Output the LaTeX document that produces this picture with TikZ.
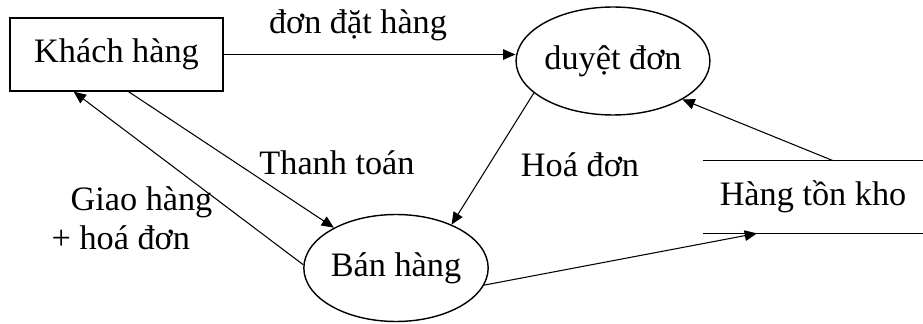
\documentclass[tikz,border=0pt]{standalone}
\usepackage{fontspec}
\setmainfont{Liberation Serif}
\usetikzlibrary{arrows.meta}
\usetikzlibrary{calc}
\usetikzlibrary{shapes.geometric}

\tikzset{
  proc/.style={ellipse, draw, line width=0.8pt, inner sep=0pt},
  flow/.style={-{Triangle[length=7pt,width=6pt]}, line width=0.6pt},
  lbl/.style={inner sep=0pt}
}

\begin{document}
\begin{tikzpicture}[x=0.02cm, y=-0.02cm, font=\fontsize{19.5}{22}\selectfont]
\useasboundingbox (0,0) rectangle (923,324);

\node[rectangle, draw, line width=0.8pt, minimum width=4.26cm, minimum height=1.46cm] (kh) at (116.5,54.5) {Khách hàng};
\node[proc, minimum width=3.26cm, minimum height=2.16cm] (duyet) at (613,61) {duyệt đơn};
\node[proc, minimum width=3.1cm, minimum height=2.14cm] (ban) at (396,268) {Bán hàng};
\node[minimum width=4.4cm, minimum height=1.44cm] (kho) at (813,197) {Hàng tồn kho};
\draw[line width=0.8pt] (kho.north west) -- (kho.north east);
\draw[line width=0.8pt] (kho.south west) -- (kho.south east);

\node[lbl] (ldat) at (358,25) {đơn đặt hàng};
\node[lbl] (ltt) at (337,163) {Thanh toán};
\node[lbl, align=left] (lgiao) at (132,218) {\hspace{0.38cm}Giao hàng\\+ hoá đơn};
\node[lbl] (lhd) at (580,165) {Hoá đơn};

\draw[flow] (kh.east) -- (duyet.west |- kh.east);
\draw[flow] (kh.-72.5) -- (ban.147);
\draw[flow] (ban.178) -- (kh.-139);
\draw[flow] (duyet.-158) -- (ban.38);
\draw[flow] ($(kho.north)+(20,0)$) -- (duyet.-29);
\draw[flow] (ban.-11) -- ($(kho.south)+(-56,0)$);
\end{tikzpicture}
\end{document}
